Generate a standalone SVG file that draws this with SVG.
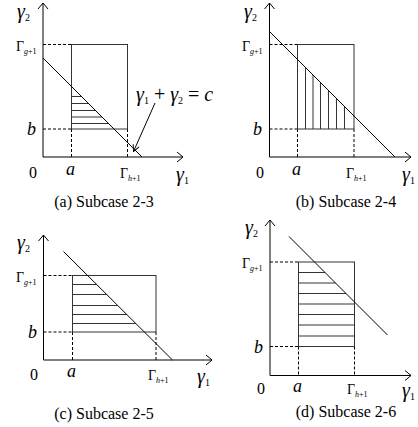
<svg xmlns="http://www.w3.org/2000/svg" width="418" height="427" viewBox="0 0 418 427" font-family="Liberation Serif, serif">
<style>
.ax{fill:none;stroke:#000;stroke-width:1}
.rc{fill:none;stroke:#333;stroke-width:1}
.ds{fill:none;stroke:#000;stroke-width:1;stroke-dasharray:3,2}
.dg{fill:none;stroke:#000;stroke-width:1}
.ht{fill:none;stroke:#333;stroke-width:1}
.g,.G,.it,.n,.cap{font-family:'Liberation Serif',serif;fill:#000}
.g{font-size:20px;font-style:italic}
.G{font-size:14px}
.sub{font-size:10px;font-style:normal}
.subi{font-size:8px;font-style:italic}
.subn{font-size:8px}
.it{font-size:18px;font-style:italic}
.n{font-size:16px}
.cap{font-size:16px}
</style>
<defs>
<marker id="ah" viewBox="0 0 10 10" refX="9" refY="5" markerWidth="8" markerHeight="8" orient="auto" markerUnits="userSpaceOnUse">
<path d="M1,1 L9,5 L1,9" fill="none" stroke="#000" stroke-width="1.2"/>
</marker>
</defs>

<g id="panel-a">
<path class="ax" d="M43,3 V157 H183"/>
<path class="ax" d="M38,9 L43,3 L48,9 M177,152 L183,157 L177,162"/>
<path class="ds" d="M43,44.5 H71.5 M43,129 H71.5 M71.5,129 V157 M127.5,129 V157"/>
<rect class="rc" x="71.5" y="44.5" width="56" height="84.5"/>
<path class="ht" d="M71.5,96.5 H81.5 M71.5,103.5 H88.5 M71.5,110.5 H95.5 M71.5,117 H102 M71.5,123.5 H108.5"/>
<path class="dg" d="M43,58 L142,157"/>
<text class="g" x="17" y="18">γ<tspan class="sub" dy="3">2</tspan></text>
<text class="G" x="16" y="51">Γ<tspan class="subi" dy="3">g</tspan><tspan class="subn">+1</tspan></text>
<text class="it" x="27" y="135">b</text>
<text class="n" x="29" y="178">0</text>
<text class="it" x="66" y="175">a</text>
<text class="G" x="120" y="178">Γ<tspan class="subi" dy="3">h</tspan><tspan class="subn">+1</tspan></text>
<text class="g" x="176" y="181">γ<tspan class="sub" dy="3">1</tspan></text>
<text class="g" x="136" y="101">γ<tspan class="sub" dy="3">1</tspan><tspan font-style="normal" dy="-3"> + </tspan>γ<tspan class="sub" dy="3">2</tspan><tspan font-style="normal" dy="-3"> = </tspan>c</text>
<path class="dg" d="M155,103 L133.5,151.5" marker-end="url(#ah)"/>
<text class="cap" x="104" y="207" text-anchor="middle">(a) Subcase 2-3</text>
</g>

<g id="panel-b">
<path class="ax" d="M269.5,3 V157 H411"/>
<path class="ax" d="M264.5,9 L269.5,3 L274.5,9 M405,152 L411,157 L405,162"/>
<path class="ds" d="M269.5,44.5 H297.5 M269.5,129 H297.5 M297.5,129 V157 M354,129 V157"/>
<rect class="rc" x="297.5" y="44.5" width="56.5" height="84.5"/>
<path class="ht" d="M305.5,67.5 V129 M313,75 V129 M320.5,82.5 V129 M328.5,90.5 V129 M336.5,98.5 V129 M344.5,106.5 V129"/>
<path class="dg" d="M269.5,31.5 L395,157"/>
<text class="g" x="244" y="18">γ<tspan class="sub" dy="3">2</tspan></text>
<text class="G" x="242" y="51">Γ<tspan class="subi" dy="3">g</tspan><tspan class="subn">+1</tspan></text>
<text class="it" x="253" y="135">b</text>
<text class="n" x="256" y="178">0</text>
<text class="it" x="292" y="175">a</text>
<text class="G" x="346" y="178">Γ<tspan class="subi" dy="3">h</tspan><tspan class="subn">+1</tspan></text>
<text class="g" x="402" y="181">γ<tspan class="sub" dy="3">1</tspan></text>
<text class="cap" x="346" y="207" text-anchor="middle">(b) Subcase 2-4</text>
</g>

<g id="panel-c">
<path class="ax" d="M43.5,235 V360 H212"/>
<path class="ax" d="M38.5,241 L43.5,235 L48.5,241 M206,355 L212,360 L206,365"/>
<path class="ds" d="M43.5,275.5 H72.5 M43.5,332 H72.5 M72.5,332 V360 M156,332 V360"/>
<rect class="rc" x="72.5" y="275.5" width="83.5" height="56.5"/>
<path class="ht" d="M72.5,284.5 H96.5 M72.5,294.5 H106.5 M72.5,305.5 H117.5 M72.5,314.5 H126.5 M72.5,323.5 H135.5"/>
<path class="dg" d="M63.5,251.5 L172.5,360"/>
<text class="g" x="17" y="249">γ<tspan class="sub" dy="3">2</tspan></text>
<text class="G" x="16" y="282">Γ<tspan class="subi" dy="3">g</tspan><tspan class="subn">+1</tspan></text>
<text class="it" x="28" y="338">b</text>
<text class="n" x="30" y="380">0</text>
<text class="it" x="67" y="377">a</text>
<text class="G" x="148" y="380">Γ<tspan class="subi" dy="3">h</tspan><tspan class="subn">+1</tspan></text>
<text class="g" x="197" y="383">γ<tspan class="sub" dy="3">1</tspan></text>
<text class="cap" x="104" y="419" text-anchor="middle">(c) Subcase 2-5</text>
</g>

<g id="panel-d">
<path class="ax" d="M270,220 V375.5 H411"/>
<path class="ax" d="M265,226 L270,220 L275,226 M405,370.5 L411,375.5 L405,380.5"/>
<path class="ds" d="M270,262 H298.5 M270,346.5 H298.5 M298.5,346.5 V375.5 M354.5,346.5 V375.5"/>
<rect class="rc" x="298.5" y="262" width="56" height="84.5"/>
<path class="ht" d="M298.5,272.5 H325 M298.5,283 H335.5 M298.5,293.5 H346 M298.5,304 H354.5 M298.5,314.5 H354.5 M298.5,325 H354.5 M298.5,336 H354.5"/>
<path class="dg" d="M289,236.5 L387.5,335"/>
<text class="g" x="245" y="234">γ<tspan class="sub" dy="3">2</tspan></text>
<text class="G" x="242" y="268">Γ<tspan class="subi" dy="3">g</tspan><tspan class="subn">+1</tspan></text>
<text class="it" x="254" y="353">b</text>
<text class="n" x="257" y="394">0</text>
<text class="it" x="293" y="392">a</text>
<text class="G" x="347" y="394">Γ<tspan class="subi" dy="3">h</tspan><tspan class="subn">+1</tspan></text>
<text class="g" x="402" y="397">γ<tspan class="sub" dy="3">1</tspan></text>
<text class="cap" x="346" y="417" text-anchor="middle">(d) Subcase 2-6</text>
</g>
</svg>
